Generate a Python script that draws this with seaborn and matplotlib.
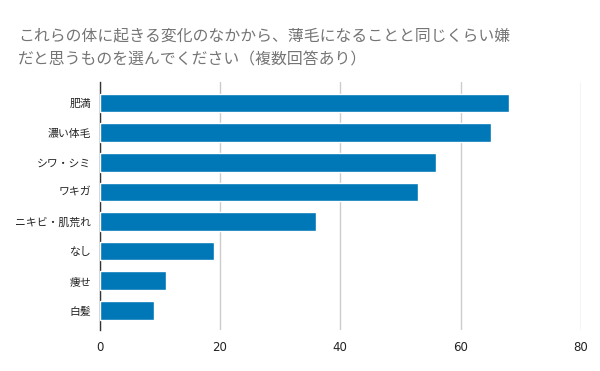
import matplotlib
matplotlib.use("Agg")
import matplotlib.pyplot as plt
import seaborn as sns
import pandas as pd

categories = ["肥満", "濃い体毛", "シワ・シミ", "ワキガ", "ニキビ・肌荒れ", "なし", "痩せ", "白髪"]
values = [68, 65, 56, 53, 36, 19, 11, 9]
xticks = [0, 20, 40, 60, 80]

title = "これらの体に起きる変化のなかから、薄毛になることと同じくらい嫌\nだと思うものを選んでください（複数回答あり）"

sns.set_style("white")
plt.rcParams['font.family'] = ['Noto Sans CJK JP', 'DejaVu Sans']

df = pd.DataFrame({"item": categories, "count": values})

fig = plt.figure(figsize=(6, 3.71), dpi=100)
ax = fig.add_axes([0.166, 0.1105, 0.802, 0.668])
sns.barplot(data=df, x="count", y="item", color="#0077b6", saturation=1,
            width=0.63, ax=ax, zorder=3)

ax.set_xlim(0, 80)
ax.set_ylim(7.66, -0.7)
ax.set_xticks(xticks)
ax.set_xlabel("")
ax.set_ylabel("")
ax.grid(axis="x", color="#cccccc", linewidth=1, zorder=0)
for s in ["top", "right", "bottom"]:
    ax.spines[s].set_visible(False)
ax.spines["left"].set_color("#333333")
ax.spines["left"].set_linewidth(1)
ax.tick_params(axis="y", length=0, labelsize=7.8, pad=6, colors="#222222")
ax.tick_params(axis="x", length=0, labelsize=8.5, pad=8, colors="#222222")
for lab in ax.get_xticklabels():
    lab.set_family("DejaVu Sans")

fig.text(0.03, 0.925, title, ha="left", va="top", fontsize=11.4,
         color="#757575", linespacing=1.55)

fig.savefig("out.png", dpi=100)
